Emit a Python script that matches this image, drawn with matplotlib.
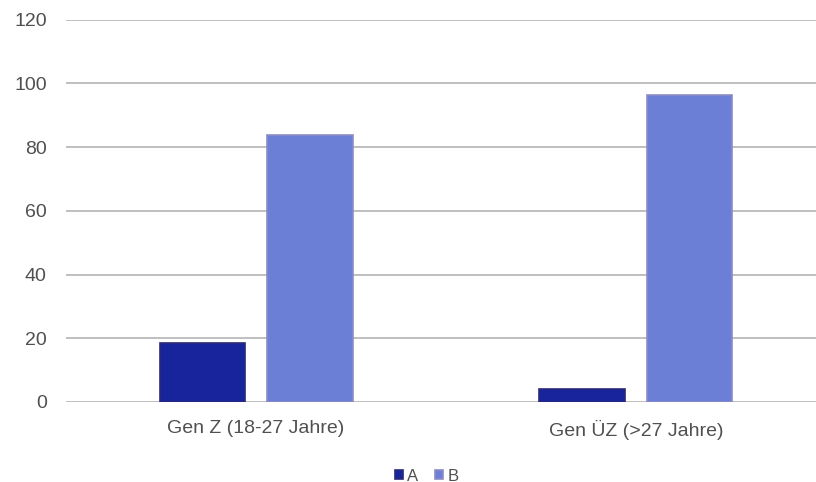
import matplotlib.pyplot as plt
import numpy as np

plt.rcParams['font.family'] = ['Liberation Sans', 'DejaVu Sans']

# Werte je Gruppe
gruppen = ['Gen Z (18-27 Jahre)', 'Gen ÜZ (>27 Jahre)']
werte_a = [18.6, 4.0]
werte_b = [83.7, 96.5]
yticks = [0, 20, 40, 60, 80, 100, 120]

fig = plt.figure(figsize=(8.16, 4.82), dpi=100)
ax = fig.add_axes([0.081, 0.166, 0.919, 0.793])

x = np.arange(len(gruppen))
breite = 0.224
ax.bar(x - 0.142, werte_a, breite, color='#17249c', edgecolor='#2a2a78',
       linewidth=1.2, label='A', zorder=3)
ax.bar(x + 0.142, werte_b, breite, color='#6c7fd6', edgecolor='#8c8cc4',
       linewidth=1.2, label='B', zorder=3)

ax.set_ylim(0, 120)
ax.set_xlim(-0.5, 1.474)
ax.set_yticks(yticks)
ax.set_xticks(x)
ax.set_xticklabels(gruppen)
ax.grid(axis='y', color='#b4b4b4', linewidth=1.2, zorder=0)
for s in ax.spines.values():
    s.set_visible(False)
ax.tick_params(axis='both', length=0, labelsize=14, labelcolor='#505050')
ax.tick_params(axis='y', pad=14)
ax.tick_params(axis='x', pad=13)

# Legende unten mittig
ax.legend(loc='upper center', bbox_to_anchor=(0.481, -0.135), ncol=2, frameon=False,
          fontsize=12, handlelength=0.5, handleheight=0.5, handletextpad=0.25,
          columnspacing=1.0, labelcolor='#505050')

plt.savefig('out.png', dpi=100)
